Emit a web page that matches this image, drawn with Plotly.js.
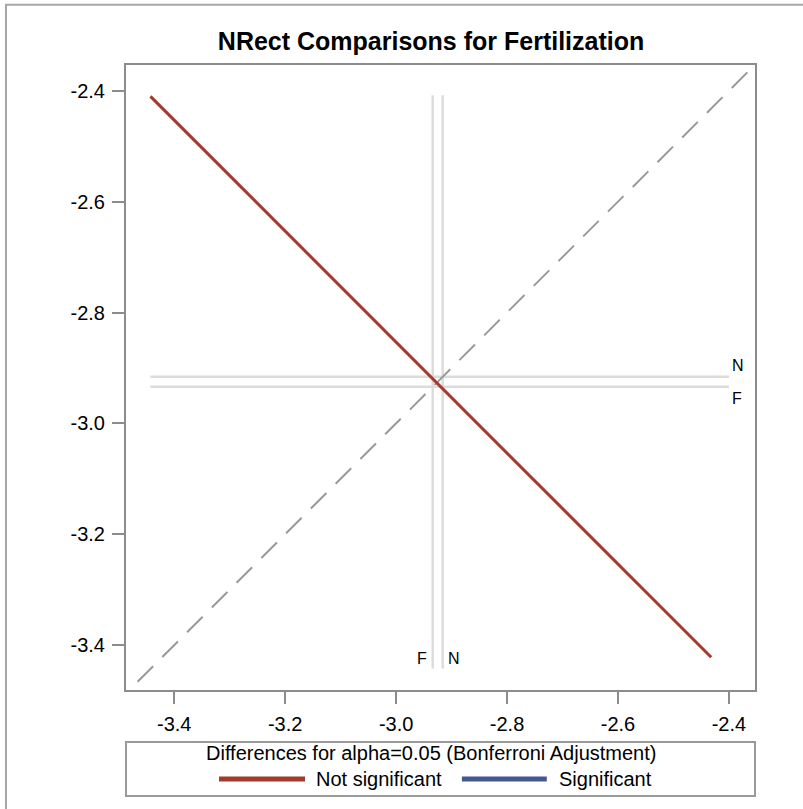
<!DOCTYPE html>
<html>
<head>
<meta charset="utf-8">
<script src="https://cdn.plot.ly/plotly-3.0.1.min.js"></script>
<style>html,body{margin:0;padding:0;background:#fff;}#chart{width:803px;height:809px;}</style>
</head>
<body>
<div id="chart"></div>
<script>
// ---- data ----
const groups = ["N", "F"];
const lsmeanN = -2.916;
const lsmeanF = -2.934;
// diffogram segment for the N-F comparison (not significant)
const segX = [-3.443, -2.432];
const segY = [-2.410, -3.422];
// reference line extents
const hRefX = [-3.443, -2.400];
const vRefY = [-3.442, -2.408];
// diagonal y = x
const diagXY = [-3.6, -2.2];
// ticks
const tickVals = [-3.4, -3.2, -3.0, -2.8, -2.6, -2.4];
const tickText = ["-3.4", "-3.2", "-3.0", "-2.8", "-2.6", "-2.4"];
const xRange = [-3.487, -2.353];
const yRange = [-3.481, -2.3535];

const RED = "#A23A2E", BLUE = "#445694", REF = "#dcdcdc", AX = "#8c8c8c";
const FONT = "Liberation Sans, Arial, sans-serif";

const traces = [
  {x: hRefX, y: [lsmeanN, lsmeanN], mode: "lines", line: {color: REF, width: 2.5}, hoverinfo: "skip"},
  {x: hRefX, y: [lsmeanF, lsmeanF], mode: "lines", line: {color: REF, width: 2.5}, hoverinfo: "skip"},
  {x: [lsmeanF, lsmeanF], y: vRefY, mode: "lines", line: {color: REF, width: 2.5}, hoverinfo: "skip"},
  {x: [lsmeanN, lsmeanN], y: vRefY, mode: "lines", line: {color: REF, width: 2.5}, hoverinfo: "skip"},
  {x: diagXY, y: diagXY, mode: "lines", line: {color: "#999999", width: 2, dash: "22px,13px"}, hoverinfo: "skip"},
  {x: segX, y: segY, mode: "lines", line: {color: RED, width: 3}, name: "Not significant"}
];

const axisCommon = {
  tickvals: tickVals, ticktext: tickText,
  showgrid: false, zeroline: false,
  showline: true, linecolor: AX, linewidth: 2, mirror: true,
  ticks: "outside", ticklen: 12, tickwidth: 2, tickcolor: AX,
  ticklabelstandoff: 3,
  tickfont: {family: FONT, size: 20, color: "#000"}
};

const lblFont = {family: FONT, size: 16, color: "#000"};
const annotations = [
  {x: hRefX[1], y: lsmeanN, text: "N", showarrow: false, xanchor: "left", yanchor: "bottom", xshift: 1, yshift: 1, font: lblFont},
  {x: hRefX[1], y: lsmeanF, text: "F", showarrow: false, xanchor: "left", yanchor: "top", xshift: 1, yshift: -1, font: lblFont},
  {x: lsmeanF, y: vRefY[0], text: "F", showarrow: false, xanchor: "right", yanchor: "bottom", xshift: -4, yshift: -1, font: lblFont},
  {x: lsmeanN, y: vRefY[0], text: "N", showarrow: false, xanchor: "left", yanchor: "bottom", xshift: 3, yshift: -1, font: lblFont},
  // legend texts
  {xref: "paper", yref: "paper", x: 0.485, y: -0.1008, text: "Differences for alpha=0.05 (Bonferroni Adjustment)", showarrow: false, xanchor: "center", yanchor: "middle", font: {family: FONT, size: 20, color: "#000"}},
  {xref: "paper", yref: "paper", x: 0.299, y: -0.1424, text: "Not significant", showarrow: false, xanchor: "left", yanchor: "middle", font: {family: FONT, size: 20, color: "#000"}},
  {xref: "paper", yref: "paper", x: 0.685, y: -0.1424, text: "Significant", showarrow: false, xanchor: "left", yanchor: "middle", font: {family: FONT, size: 20, color: "#000"}}
];

const shapes = [
  // outer frame
  {type: "rect", xref: "paper", yref: "paper", x0: -0.1908, x1: 1.2, y0: -0.3, y1: 1.0965, line: {color: "#a6a6a6", width: 2}, fillcolor: "rgba(0,0,0,0)", layer: "below"},
  // legend box
  {type: "rect", xref: "paper", yref: "paper", x0: 0, x1: 1, y0: -0.1696, y1: -0.0832, line: {color: "#9a9a9a", width: 2}, fillcolor: "rgba(0,0,0,0)"},
  // legend samples
  {type: "line", xref: "paper", yref: "paper", x0: 0.1479, x1: 0.2846, y0: -0.1424, y1: -0.1424, line: {color: RED, width: 5}},
  {type: "line", xref: "paper", yref: "paper", x0: 0.534, x1: 0.669, y0: -0.1424, y1: -0.1424, line: {color: BLUE, width: 5}}
];

const layout = {
  width: 803, height: 809,
  margin: {l: 126, r: 48, t: 65, b: 119},
  paper_bgcolor: "#fff", plot_bgcolor: "#fff",
  showlegend: false,
  title: {text: "<b>NRect Comparisons for Fertilization</b>", x: 0.485, xref: "paper", xanchor: "center", y: 1.0, yref: "paper", yanchor: "bottom", pad: {b: 15}, font: {family: FONT, size: 25, color: "#000"}},
  xaxis: Object.assign({range: xRange}, axisCommon),
  yaxis: Object.assign({range: yRange}, axisCommon),
  annotations: annotations,
  shapes: shapes
};

Plotly.newPlot("chart", traces, layout, {staticPlot: true});
</script>
</body>
</html>
